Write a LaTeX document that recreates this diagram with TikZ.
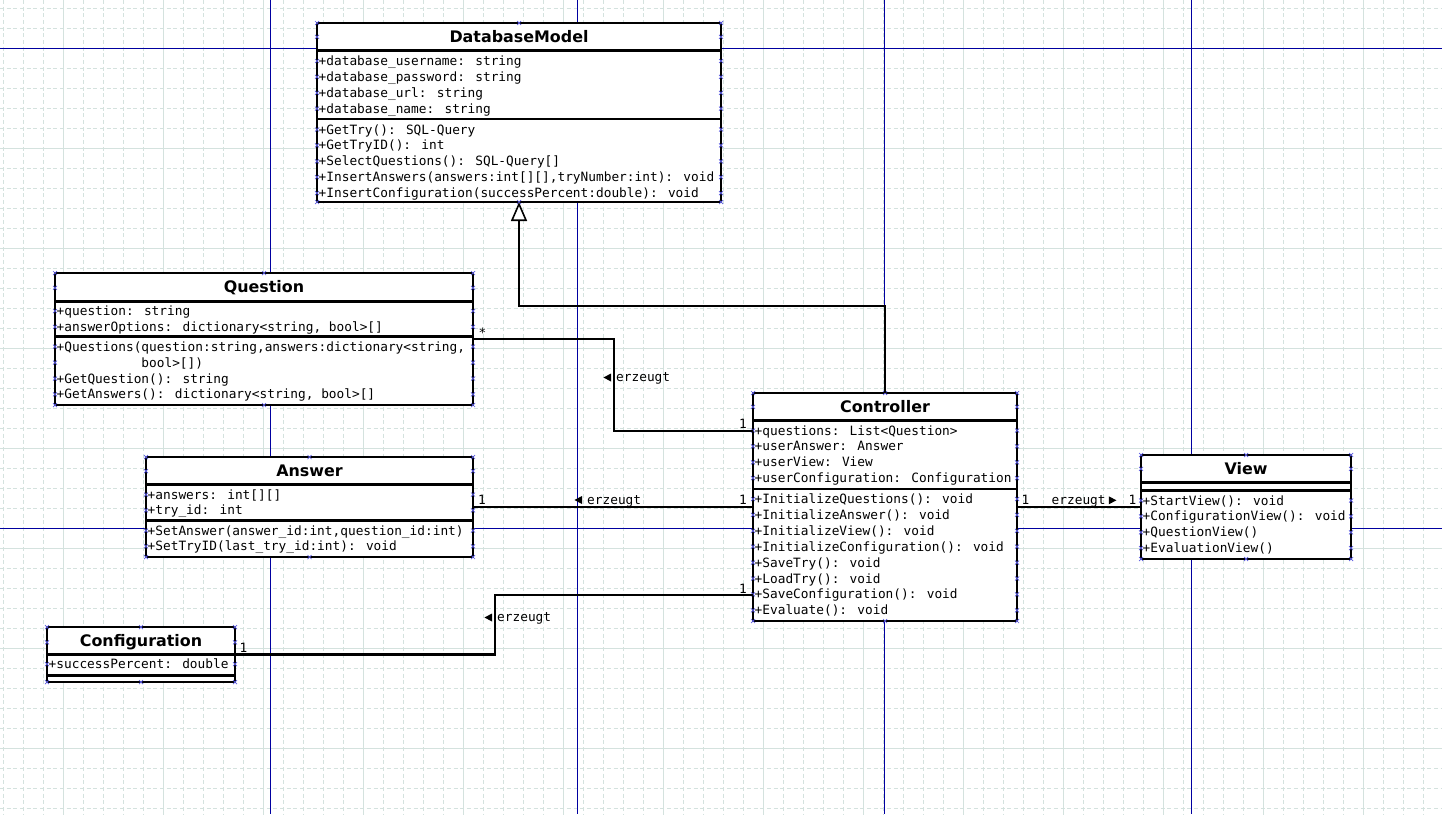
\documentclass[tikz,border=0pt]{standalone}
\usepackage{fontspec}
\newfontfamily\memberfont{DejaVu Sans Mono}
\newfontfamily\classfont{DejaVu Sans}
\usepackage{tikz}
\usetikzlibrary{arrows.meta}

\definecolor{gridline}{RGB}{212,226,222}
\definecolor{guideblue}{RGB}{0,0,160}
\definecolor{handleblue}{RGB}{90,90,225}

\tikzset{
  classbox/.style={draw,fill=white,line width=2.6pt,inner sep=0pt,outer sep=0pt},
  classname/.style={font=\classfont\bfseries\fontsize{15.9}{18}\selectfont,inner sep=0pt,anchor=base},
  member/.style={font=\memberfont\fontsize{12.8}{15.9}\selectfont,inner sep=0pt,anchor=base west},
  compsep/.style={line width=2.6pt},
  assoc/.style={line width=2.6pt},
  inherit/.style={line width=2.6pt,-{Triangle[length=19pt,width=16pt,fill=white,line width=1.6pt]}},
  handle/.style={handleblue,line width=0.7pt},
}

% small selection marks on the class boxes
\newcommand\hdl[1]{\draw[handle] (#1) +(-2,-2) -- +(2,2) +(-2,2) -- +(2,-2);}
\newcommand\boxhandles[2]{%
  \foreach \anc in {north west,north,north east,south west,south,south east}{\hdl{#1.\anc}}
  \hdl{#1.west |- #2.center}\hdl{#1.east |- #2.center}}
% member lines: name, left, right, first baseline, rows
\newcommand\memberrows[5]{%
  \foreach \m [count=\i] in {#5}{%
    \pgfmathsetmacro\yy{#4+15.9*(\i-1)}%
    \node[member] (#1\i) at (#2+1.5,\yy) {\m};
    \hdl{#2,\yy-4.5}\hdl{#3,\yy-4.5}}}
\newcommand\lefttri[1]{\fill (#1) ++(-12.5,-4) -- ++(7.5,-4) -- ++(0,8) -- cycle;}
\newcommand\righttri[1]{\fill (#1) ++(3,-8) -- ++(0,8) -- ++(7.5,-4) -- cycle;}

\begin{document}
\begin{tikzpicture}[x=1pt,y=-1pt]
  \fill[white] (0,0) rectangle (1442,814);
  \useasboundingbox (0,0) rectangle (1442,814);

  % grid
  \foreach \gx in {3,23,...,1443}
    \draw[gridline,line width=1pt,dash pattern=on 4pt off 2.67pt] (\gx,0) -- (\gx,814);
  \foreach \gy in {8,28,...,808}
    \draw[gridline,line width=1pt,dash pattern=on 4pt off 2.67pt] (0,\gy) -- (1442,\gy);
  \foreach \gx in {63,163,...,1363}
    \draw[gridline,line width=1pt] (\gx,0) -- (\gx,814);
  \foreach \gy in {48,148,...,748}
    \draw[gridline,line width=1pt] (0,\gy) -- (1442,\gy);
  \foreach \gx in {270,577,884,1191}
    \draw[guideblue,line width=1pt] (\gx,0) -- (\gx,814);
  \foreach \gy in {48,528}
    \draw[guideblue,line width=1pt] (0,\gy) -- (1442,\gy);

  % DatabaseModel
  \node[classbox,minimum width=404pt,minimum height=179pt] (db) at (519,112.5) {};
  \node[classname] (dbname) at (519,42.7) {DatabaseModel};
  \draw[compsep] (317,50.7) -- (721,50.7);
  \draw[compsep] (317,119) -- (721,119);
  \memberrows{dba}{317}{721}{65.5}{{+database\_username: string},{+database\_password: string},
    {+database\_url: string},{+database\_name: string}}
  \memberrows{dbm}{317}{721}{134}{{+GetTry(): SQL-Query},{+GetTryID(): int},
    {+SelectQuestions(): SQL-Query[]},{+InsertAnswers(answers:int[][],tryNumber:int): void},
    {+InsertConfiguration(successPercent:double): void}}
  \boxhandles{db}{dbname}

  % Question
  \node[classbox,minimum width=418pt,minimum height=132pt] (q) at (264,339) {};
  \node[classname] (qname) at (264,292.7) {Question};
  \draw[compsep] (55,301.3) -- (473,301.3);
  \draw[compsep] (55,336.7) -- (473,336.7);
  \memberrows{qa}{55}{473}{315.5}{{+question: string},{+answerOptions: dictionary<string, bool>[]}}
  \memberrows{qm}{55}{473}{351.2}{{+Questions(question:string,answers:dictionary<string,},
    {\hphantom{+Questions(}bool>[])},{+GetQuestion(): string},{+GetAnswers(): dictionary<string, bool>[]}}
  \boxhandles{q}{qname}

  % Answer
  \node[classbox,minimum width=327pt,minimum height=100pt] (ans) at (309.5,507) {};
  \node[classname] (ansname) at (309.5,476.7) {Answer};
  \draw[compsep] (146,484.7) -- (473,484.7);
  \draw[compsep] (146,520.7) -- (473,520.7);
  \memberrows{ansa}{146}{473}{499}{{+answers: int[][]},{+try\_id: int}}
  \memberrows{ansm}{146}{473}{535}{{+SetAnswer(answer\_id:int,question\_id:int)},
    {+SetTryID(last\_try\_id:int): void}}
  \boxhandles{ans}{ansname}

  % Configuration
  \node[classbox,minimum width=188pt,minimum height=55pt] (cfg) at (141,654.5) {};
  \node[classname] (cfgname) at (141,646.7) {Configuration};
  \draw[compsep] (47,654.3) -- (235,654.3);
  \draw[compsep] (47,675.3) -- (235,675.3);
  \memberrows{cfga}{47}{235}{668.5}{{+successPercent: double}}
  \boxhandles{cfg}{cfgname}

  % Controller
  \node[classbox,minimum width=264pt,minimum height=228pt] (ctrl) at (885,507) {};
  \node[classname] (ctrlname) at (885,412.7) {Controller};
  \draw[compsep] (753,420.7) -- (1017,420.7);
  \draw[compsep] (753,489) -- (1017,489);
  \memberrows{ctrla}{753}{1017}{435}{{+questions: List<Question>},{+userAnswer: Answer},
    {+userView: View},{+userConfiguration: Configuration}}
  \memberrows{ctrlm}{753}{1017}{503.5}{{+InitializeQuestions(): void},{+InitializeAnswer(): void},
    {+InitializeView(): void},{+InitializeConfiguration(): void},{+SaveTry(): void},
    {+LoadTry(): void},{+SaveConfiguration(): void},{+Evaluate(): void}}
  \boxhandles{ctrl}{ctrlname}

  % View
  \node[classbox,minimum width=210pt,minimum height=104pt] (view) at (1246,507) {};
  \node[classname] (viewname) at (1246,474.7) {View};
  \draw[compsep] (1141,482.7) -- (1351,482.7);
  \draw[compsep] (1141,490.7) -- (1351,490.7);
  \memberrows{viewm}{1141}{1351}{505}{{+StartView(): void},{+ConfigurationView(): void},
    {+QuestionView()},{+EvaluationView()}}
  \boxhandles{view}{viewname}

  % connectors
  \coordinate (qbend) at (614,431);
  \coordinate (cbend) at (495,595);
  \draw[inherit] (ctrl.north) -- ++(0,-87) -| (db.south);
  \draw[assoc] (q.east) -| (qbend) -- (qbend -| ctrl.west);
  \draw[assoc] (ans.east) -- (ctrl.west);
  \draw[assoc] (cfg.east) -| (cbend) -- (cbend -| ctrl.west);
  \draw[assoc] (ctrl.east) -- (view.west);

  % multiplicities and labels
  \node[member] (qstar) at (478.5,337) {*};
  \node[member] (qone) at (739,428.5) {1};
  \node[member] (qlbl) at (616,381.5) {erzeugt};
  \lefttri{qlbl.base west}
  \node[member] (aone) at (478,504) {1};
  \node[member] (aone2) at (739,504) {1};
  \node[member] (albl) at (587,504) {erzeugt};
  \lefttri{albl.base west}
  \node[member] (cone) at (239.5,652.3) {1};
  \node[member] (cone2) at (739,593) {1};
  \node[member] (clbl) at (497,621.5) {erzeugt};
  \lefttri{clbl.base west}
  \node[member] (vone) at (1021.5,504.3) {1};
  \node[member] (vlbl) at (1051.5,504.3) {erzeugt};
  \righttri{vlbl.base east}
  \node[member] (vone2) at (1128.5,504.3) {1};
\end{tikzpicture}
\end{document}
